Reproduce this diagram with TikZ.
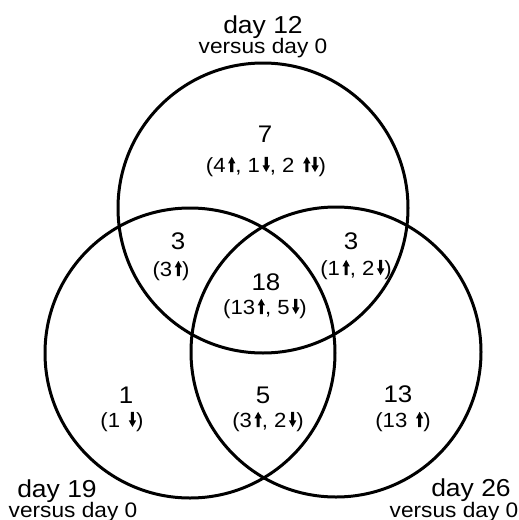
\documentclass[tikz,border=0pt]{standalone}
\usepackage{fontspec}
\setmainfont[FakeStretch=1.08]{Liberation Sans}
\newcommand\ua{\hspace{0.12em}\tikz[baseline=0pt,x=1em,y=1em]\fill[black] (-0.075,0) -- (-0.075,0.42) -- (-0.18,0.42) -- (0,0.74) -- (0.18,0.42) -- (0.075,0.42) -- (0.075,0) -- cycle;}
\newcommand\da{\hspace{0.12em}\tikz[baseline=0pt,x=1em,y=1em]\fill[black] (-0.075,0.74) -- (-0.075,0.32) -- (-0.18,0.32) -- (0,0) -- (0.18,0.32) -- (0.075,0.32) -- (0.075,0.74) -- cycle;}
\newcommand\uda{\ua\hspace{-0.08em}\da}
\tikzset{
  ring/.style={draw=black, line width=3pt},
  big/.style={font=\fontsize{24}{24}\selectfont, anchor=base, inner sep=0pt},
  small/.style={font=\fontsize{20.5}{20.5}\selectfont, anchor=base, inner sep=0pt},
  daylab/.style={font=\fontsize{24.5}{24.5}\selectfont, anchor=base, inner sep=0pt},
  vslab/.style={font=\fontsize{21}{21}\selectfont, anchor=base, inner sep=0pt},
}
\begin{document}
\begin{tikzpicture}[x=1pt,y=-1pt]
\useasboundingbox (0,0) rectangle (519,520);
\fill[white] (0,0) rectangle (519,520);
% circles
\node[ring, circle, minimum size=290pt, inner sep=0pt] (ctop) at (263,208) {};
\node[ring, circle, minimum size=290pt, inner sep=0pt] (cleft) at (190,353) {};
\node[ring, circle, minimum size=290pt, inner sep=0pt] (cright) at (336,352) {};
% set labels
\node[daylab] (d12) at (263,33) {day 12};
\node[vslab] (v12) at (263,53) {versus day 0};
\node[daylab] (d19) at (57,497) {day 19};
\node[vslab] (v19) at (73,517) {versus day 0};
\node[daylab] (d26) at (471,496) {day 26};
\node[vslab] (v26) at (454,517) {versus day 0};
% regions
\node[big] (n7) at (265,142) {7};
\node[small] (p7) at (266,172) {(4\ua, 1\da, 2 \uda)};
\node[big] (n3l) at (178,249) {3};
\node[small] (p3l) at (171,276) {(3\ua)};
\node[big] (n3r) at (351,249) {3};
\node[small] (p3r) at (356,275) {(1\ua, 2\da)};
\node[big] (n18) at (266,290) {18};
\node[small] (p18) at (265,314) {(13\ua, 5\da)};
\node[big] (n1) at (126,403) {1};
\node[small] (p1) at (122,427) {(1 \da)};
\node[big] (n5) at (263,403) {5};
\node[small] (p5) at (268,427) {(3\ua, 2\da)};
\node[big] (n13) at (398,402) {13};
\node[small] (p13) at (403,427) {(13 \ua)};
\end{tikzpicture}
\end{document}
